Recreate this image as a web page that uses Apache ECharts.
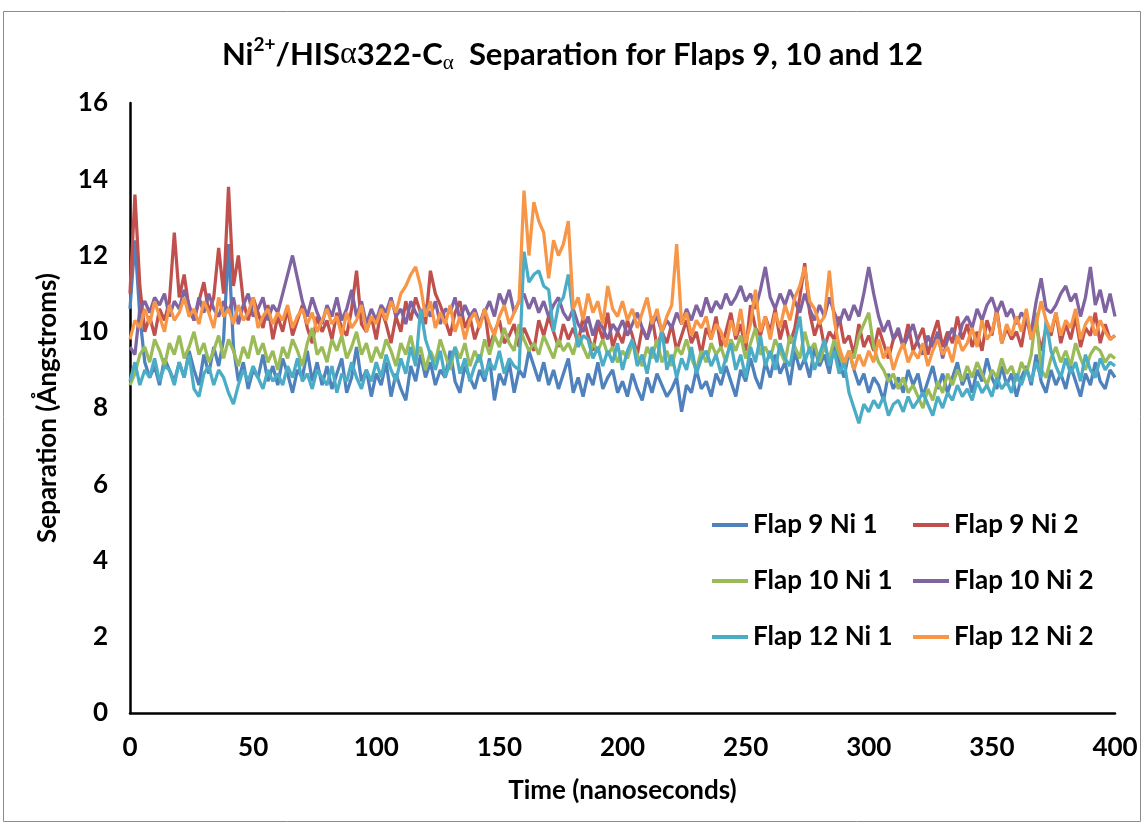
<!DOCTYPE html>
<html>
<head>
<meta charset="utf-8">
<script src="https://cdn.jsdelivr.net/npm/echarts@6/dist/echarts.min.js"></script>
<style>
  html, body { margin: 0; padding: 0; background: #fff; }
  #chart { width: 1145px; height: 826px; }
</style>
</head>
<body>
<div id="chart"></div>
<script>
// Sampling interval of the trajectories (ns)
const TIME_STEP = 2;

const seriesNames = ['Flap 9 Ni 1', 'Flap 9 Ni 2', 'Flap 10 Ni 1', 'Flap 10 Ni 2', 'Flap 12 Ni 1', 'Flap 12 Ni 2'];

// Ni–Cα separations (Å), one value every TIME_STEP ns from 0 to 400 ns
const flap9Ni1 = [
  10.6, 12.4, 10.4, 9.2, 8.8, 9.1, 8.6, 9.3, 9.0, 8.7,
  9.2, 8.8, 9.5, 9.0, 8.6, 9.4, 8.9, 9.6, 9.1, 9.8,
  12.3, 9.6, 8.7, 9.2, 8.5, 9.0, 8.8, 9.4, 8.7, 9.1,
  8.6, 9.3, 8.9, 8.4, 9.0, 8.8, 9.5, 8.7, 9.2, 8.6,
  9.1, 8.5, 8.9, 9.3, 8.4, 8.8, 9.6, 8.7, 9.0, 8.3,
  8.9, 8.6, 9.2, 8.3, 8.9, 8.5, 8.2, 9.1, 8.7, 9.4,
  8.8, 9.2, 8.6, 9.0, 8.8, 9.5, 8.7, 8.4, 9.1, 8.8,
  8.5, 9.0, 8.7, 9.3, 8.2, 8.9, 8.6, 9.2, 8.4, 9.0,
  8.8, 9.5, 9.1, 8.7, 9.2, 8.6, 9.0, 8.5, 8.9, 9.3,
  8.4, 8.8, 8.3, 8.9, 8.6, 9.2, 8.5, 8.8, 9.0, 8.4,
  8.7, 8.3, 8.9, 8.5, 8.2, 8.8, 8.4, 8.9, 8.6, 8.3,
  8.5, 8.8, 7.9, 8.6, 8.4, 9.0, 8.5, 8.7, 8.3, 8.9,
  8.6, 9.1, 8.7, 8.3, 9.0, 8.7, 9.3, 8.8, 8.5, 9.2,
  8.8, 9.4, 8.9, 9.2, 8.6, 9.5, 9.0, 9.3, 8.8, 9.6,
  9.1, 9.4, 8.9, 9.7, 9.2, 8.8, 9.5, 9.0, 8.6, 8.9,
  8.4, 8.8, 8.6, 8.2, 8.9, 8.5, 8.8, 8.4, 9.0, 8.6,
  8.9, 8.3, 8.7, 9.1, 8.5, 8.9, 8.4, 8.8, 9.2, 8.6,
  8.9, 8.4, 9.0, 8.7, 9.3, 8.8, 8.5, 9.1, 8.6, 8.9,
  8.3, 8.8, 9.1, 8.6, 9.4, 8.7, 8.4, 9.0, 8.6, 8.9,
  8.5, 9.1, 8.7, 8.3, 8.9, 8.6, 9.2, 8.7, 8.5, 9.0,
  8.8
];

const flap9Ni2 = [
  11.0, 13.6, 11.2, 10.0, 10.4, 9.9, 10.6, 10.3, 10.8, 12.6,
  10.9, 11.5, 10.6, 10.3, 10.8, 11.3, 10.5, 10.9, 12.2, 11.0,
  13.8, 11.2, 12.0, 10.8, 10.3, 10.9, 10.5, 10.1, 10.7, 9.8,
  10.4, 10.0, 10.6, 9.9, 10.3, 10.7, 10.1, 9.7, 10.4, 10.0,
  10.3, 9.8, 10.5, 10.1, 9.9, 10.6, 11.6, 10.2, 10.0, 10.4,
  9.8, 10.6, 10.2, 9.7, 10.4, 10.0, 10.8, 10.3, 10.9, 10.5,
  10.2, 11.6, 11.0, 10.7, 10.3, 9.9, 10.5, 10.8, 10.1, 10.4,
  9.8, 10.2, 10.6, 9.6, 10.0, 10.3, 9.7, 9.9, 10.2, 9.6,
  10.1, 9.8, 9.5, 10.3, 9.9, 10.4, 10.0, 9.6, 10.2, 9.8,
  10.1, 9.7, 10.4, 9.9, 9.5, 10.2, 9.8, 10.5, 9.6, 10.0,
  9.7, 10.3, 9.9, 9.4, 10.1, 9.8, 10.4, 9.6, 10.0, 9.7,
  10.2, 9.5, 9.9, 10.3, 9.7, 10.0, 9.4, 10.1, 9.8, 10.4,
  9.6, 10.0, 10.5, 9.8, 10.2, 9.5, 10.7, 10.1, 9.9, 10.4,
  10.0, 10.6, 9.8, 10.3, 9.7, 10.1, 10.9, 11.8, 10.5, 9.9,
  10.3, 9.6, 10.0, 9.8, 10.4, 9.7, 9.9, 9.4, 10.2, 9.6,
  9.9, 9.5, 10.1, 9.7, 9.3, 9.8, 10.0, 9.6, 10.2, 9.5,
  9.8, 10.1, 9.4, 9.9, 10.3, 9.6, 10.0, 9.7, 10.4, 9.8,
  10.2, 9.6, 10.0, 9.5, 10.3, 9.9, 10.6, 9.7, 10.1, 9.8,
  10.0, 9.6, 10.4, 9.8, 10.2, 9.5, 10.1, 9.9, 10.5, 9.7,
  10.2, 9.8, 10.4, 9.6, 10.1, 9.9, 10.5, 9.7, 10.2, 9.8,
  9.9
];

const flap10Ni1 = [
  8.6, 8.9, 9.4, 9.6, 9.2, 9.8, 9.5, 9.1, 9.7, 9.4,
  9.9, 9.3, 9.6, 10.0, 9.4, 9.7, 9.2, 9.5, 9.9, 9.3,
  9.8, 9.5, 9.1, 9.6, 9.3, 9.9, 9.4, 9.7, 9.2, 9.5,
  9.0, 9.6, 9.3, 9.8, 9.5, 9.1, 9.7, 10.1, 9.4, 9.6,
  9.2, 9.8, 9.5, 9.9, 9.3, 9.6, 10.0, 9.4, 9.7, 9.2,
  9.6, 9.3, 9.8, 9.5, 9.1, 9.7, 9.4, 9.9, 9.3, 9.6,
  9.0, 9.5, 9.2, 9.8, 9.4, 9.0, 9.6, 9.3, 9.7, 9.1,
  9.5, 9.2, 9.8, 9.4, 9.9, 9.6, 10.1, 9.7, 9.5, 10.2,
  9.8, 9.5, 9.7, 9.4, 9.9, 9.6, 9.3, 9.8, 9.5, 9.7,
  9.4, 9.9, 9.6, 9.3, 9.7, 9.5, 9.8, 9.4, 9.6, 9.2,
  9.5, 9.3, 9.7, 9.4, 9.1, 9.6, 9.3, 9.8, 9.2, 9.5,
  9.1, 9.6, 9.4, 9.8, 9.3, 9.0, 9.5, 9.2, 9.7, 9.4,
  9.6, 9.2, 9.8, 9.5, 9.9, 9.3, 9.7, 10.1, 9.4, 9.6,
  9.3, 9.8, 9.5, 9.2, 9.9, 9.6, 9.3, 10.0, 9.5, 9.7,
  9.2, 9.6, 9.3, 9.8, 9.4, 9.1, 9.5, 9.3, 9.9, 10.2,
  10.5, 9.6, 9.2, 9.0, 8.7, 8.9, 8.5, 8.8, 8.4, 8.6,
  8.3, 8.0, 8.5, 8.2, 8.7, 8.4, 8.9, 8.6, 9.0, 8.7,
  9.1, 8.8, 9.2, 8.9, 8.6, 9.0, 8.8, 9.3, 8.9, 9.1,
  8.7, 9.2, 8.9, 9.4, 10.5, 9.0, 8.8, 9.3, 9.6, 9.2,
  9.5, 9.1, 9.7, 9.3, 9.0, 9.4, 9.6, 9.5, 9.2, 9.4,
  9.3
];

const flap10Ni2 = [
  9.6, 9.4, 10.6, 10.8, 10.5, 10.9, 10.7, 11.0, 10.4, 10.8,
  10.6, 11.1, 10.7, 10.3, 10.9, 10.5, 11.0, 10.6, 10.4, 10.8,
  10.5, 10.9, 10.2, 10.7, 11.0, 10.4, 10.6, 10.9, 10.3, 10.7,
  10.5, 11.0, 11.5, 12.0, 11.4, 10.8, 10.4, 10.9, 10.5, 10.2,
  10.7, 10.4, 10.9, 10.3, 10.6, 11.1, 10.4, 10.8, 10.2, 10.6,
  10.3, 10.7, 10.5, 10.9, 10.4, 10.6, 10.2, 10.8, 10.5, 10.3,
  10.7, 10.4, 10.8, 10.2, 10.6, 10.5, 10.9, 10.3, 10.7, 10.4,
  10.6, 10.2, 10.5, 10.8, 10.4, 11.0, 10.7, 11.1, 10.5, 10.8,
  11.0, 10.6, 10.9, 10.5, 10.8, 10.4, 10.7, 10.9, 10.5, 10.3,
  10.6, 10.2, 10.0, 10.4, 9.9, 10.3, 10.1, 9.8, 10.2, 10.0,
  10.3, 9.9, 10.2, 10.5, 10.1, 9.8, 10.2, 10.4, 10.0, 10.3,
  10.1, 10.5, 10.2, 10.6, 10.3, 10.7, 10.4, 10.9, 10.5, 10.8,
  10.6, 11.0, 10.7, 10.9, 11.2, 10.8, 11.0, 10.6, 11.1, 11.7,
  10.9, 10.6, 11.0, 10.7, 11.1, 10.8, 10.5, 11.0, 10.6, 10.3,
  10.7, 10.4, 10.9, 10.5, 10.2, 10.6, 10.3, 10.7, 10.4, 11.0,
  11.7, 11.0, 10.4, 10.0, 10.3, 9.8, 10.1, 9.6, 9.9, 10.2,
  9.7, 9.4, 9.9, 9.6, 10.0, 9.3, 9.8, 10.1, 9.7, 10.2,
  10.4, 10.1, 10.6, 10.3, 10.7, 10.9, 10.5, 10.8, 10.4, 10.6,
  10.2, 10.5, 10.3, 10.0, 10.8, 11.4, 10.6, 10.5, 10.7, 11.0,
  11.2, 10.8, 11.0, 10.4, 10.9, 11.7, 10.7, 11.1, 10.5, 11.0,
  10.4
];

const flap12Ni1 = [
  8.7, 9.2, 8.6, 9.0, 8.8, 9.3, 8.7, 9.1, 9.0, 8.6,
  9.2, 8.8, 9.4, 8.5, 8.3, 8.9, 9.1, 8.6, 9.0, 8.8,
  8.4, 8.1, 8.6, 9.0, 8.7, 9.1, 8.8, 8.5, 9.0, 8.7,
  8.9, 8.6, 9.1, 8.8, 9.3, 8.7, 8.9, 8.5, 9.0, 8.8,
  8.6, 9.1, 8.4, 8.9, 8.7, 9.2, 8.8, 8.5, 9.0, 8.7,
  9.2, 8.8, 9.4, 9.0, 8.7, 9.3, 8.9, 9.6, 9.1, 10.6,
  9.8, 9.4, 9.0, 9.5, 8.8, 9.2, 9.6, 8.9, 9.3, 8.7,
  9.1, 9.4, 8.8, 9.2, 9.0, 9.5, 8.9, 9.3, 9.1, 9.0,
  12.1, 11.3, 11.5, 11.6, 11.2, 11.1, 10.0, 10.7, 10.9, 11.5,
  10.4, 9.6, 9.9, 9.8, 9.3, 9.6, 9.1, 9.5, 9.2, 9.7,
  9.0, 9.5, 9.8, 9.1, 9.4, 8.9, 9.6, 9.2, 10.1, 9.0,
  9.4, 8.8, 9.3, 9.0, 9.6, 8.9, 9.3, 9.5, 9.1, 9.4,
  8.9, 9.3, 9.7, 9.0, 9.4, 8.8, 9.6, 9.2, 9.9, 9.1,
  9.5, 9.0, 9.7, 9.3, 9.1, 9.8, 10.4, 9.2, 9.6, 9.0,
  9.4, 9.8, 9.1, 9.5, 8.9, 9.2, 8.4, 8.0, 7.6, 8.1,
  7.9, 8.2, 8.0, 8.3, 7.8, 8.1, 8.2, 7.9, 8.3, 8.0,
  8.2, 8.4, 8.1, 7.8, 8.3, 8.0, 8.4, 8.2, 8.6, 8.3,
  8.5, 8.2, 8.7, 8.4, 8.6, 8.3, 8.8, 8.5, 8.7, 8.4,
  8.9, 8.6, 9.0, 8.7, 9.2, 8.8, 10.3, 9.5, 9.1, 8.8,
  9.3, 8.9, 9.2, 8.7, 9.4, 9.0, 8.8, 9.3, 9.0, 9.2,
  9.1
];

const flap12Ni2 = [
  9.8, 10.3, 10.1, 10.6, 10.2, 10.8, 10.4, 10.0, 10.7, 10.3,
  10.5, 10.9, 10.4, 10.6, 10.2, 10.8, 10.5, 10.1, 10.9, 10.4,
  10.6, 10.2, 10.7, 10.3, 10.5, 10.9, 10.1, 10.4, 10.6, 10.2,
  10.5, 10.3, 10.7, 10.1, 10.4, 10.6, 10.2, 10.5, 10.0, 10.3,
  10.6, 10.2, 10.4, 9.9, 10.5, 10.1, 10.3, 10.7, 10.0, 10.4,
  10.2, 10.6, 10.3, 10.8, 10.5, 11.0, 11.2, 11.5, 11.7, 11.2,
  10.4, 10.8, 10.1, 10.5, 10.2, 10.7, 10.0, 10.4, 9.8, 10.3,
  10.5, 10.1, 10.6, 10.2, 9.9, 10.4, 10.7, 10.2, 10.5, 10.8,
  13.7, 12.0, 13.4, 12.9, 12.6, 11.4, 12.4, 12.0, 12.3, 12.9,
  10.6, 10.9, 10.3, 11.0, 10.5, 10.8, 10.2, 11.2, 10.6, 10.4,
  10.8, 10.3, 10.6, 10.1, 10.5, 10.9, 10.2, 10.6, 10.0, 10.4,
  10.7, 12.3, 10.2, 10.5, 9.9, 10.3, 10.1, 10.4, 9.8, 10.2,
  10.0, 9.6, 10.3, 9.9, 10.6, 9.7, 10.2, 11.1, 10.0, 10.4,
  9.8, 10.5, 10.1, 10.7, 10.3, 10.9, 11.2, 11.7, 10.8, 10.6,
  10.2, 10.4, 11.6, 10.3, 9.6, 9.2, 9.5, 9.0, 9.4, 9.1,
  9.5, 9.2, 9.8, 9.3, 9.6, 9.0, 9.4, 9.7, 9.2, 9.5,
  9.3, 9.7, 9.1, 9.5, 9.8, 9.4, 9.6, 9.2, 9.9, 9.5,
  9.7, 10.1, 9.6, 10.3, 9.8, 10.0, 10.5, 9.7, 10.2, 9.9,
  10.4, 10.0, 10.6, 9.8, 10.2, 10.8, 10.3, 10.0, 10.5, 9.9,
  10.3, 10.1, 10.6, 9.8, 10.2, 10.4, 9.9, 10.3, 10.0, 9.8,
  9.9
];

const seriesValues = [flap9Ni1, flap9Ni2, flap10Ni1, flap10Ni2, flap12Ni1, flap12Ni2];
const seriesColors = ['#4F81BD', '#C0504D', '#9BBB59', '#8064A2', '#4BACC6', '#F79646'];

const FONT = 'Lato';
const labelFont = { fontFamily: FONT, fontWeight: 'bold', fontSize: 26, color: '#000' };

const chart = echarts.init(document.getElementById('chart'), null, { renderer: 'canvas' });

chart.setOption({
  backgroundColor: '#fff',
  animation: false,
  title: {
    text: '{t|Ni}{sup|2+}{t|/HIS}{g|α}{t|322-C}{sub|α}{t|  Separation for Flaps 9, 10 and 12}',
    left: 'center',
    top: 30,
    textStyle: {
      rich: {
        t: { fontFamily: FONT, fontWeight: 'bold', fontSize: 31, color: '#000' },
        sup: { fontFamily: FONT, fontWeight: 'bold', fontSize: 19, color: '#000', verticalAlign: 'top', padding: [0, 0, 12, 0] },
        g: { fontFamily: 'Liberation Serif', fontWeight: 'normal', fontSize: 32, color: '#000' },
        sub: { fontFamily: 'Liberation Serif', fontWeight: 'normal', fontSize: 21, color: '#000', padding: [18, 0, 0, 0] }
      }
    }
  },
  graphic: [{
    type: 'rect',
    shape: { x: 3.5, y: 11.5, width: 1137, height: 810 },
    style: { fill: 'none', stroke: '#8c8c8c', lineWidth: 1 },
    silent: true
  }],
  legend: [
    {
      orient: 'vertical', left: 707, top: 507, itemWidth: 36, itemHeight: 4, itemGap: 30,
      icon: 'rect', textStyle: labelFont,
      data: [seriesNames[0], seriesNames[2], seriesNames[4]]
    },
    {
      orient: 'vertical', left: 908, top: 507, itemWidth: 36, itemHeight: 4, itemGap: 30,
      icon: 'rect', textStyle: labelFont,
      data: [seriesNames[1], seriesNames[3], seriesNames[5]]
    }
  ],
  grid: { left: 130, right: 30, top: 103, bottom: 113, containLabel: false },
  xAxis: {
    type: 'value', min: 0, max: 400, interval: 50,
    name: 'Time (nanoseconds)', nameLocation: 'middle', nameGap: 65,
    nameTextStyle: labelFont,
    axisLine: { show: true, lineStyle: { color: '#000', width: 2.5 } },
    axisTick: { show: false },
    splitLine: { show: false },
    axisLabel: Object.assign({ margin: 22 }, labelFont)
  },
  yAxis: {
    type: 'value', min: 0, max: 16, interval: 2,
    name: 'Separation (Ångstroms)', nameLocation: 'middle', nameGap: 69, nameRotate: 90,
    nameTextStyle: labelFont,
    axisLine: { show: true, lineStyle: { color: '#000', width: 2.5 } },
    axisTick: { show: false },
    splitLine: { show: false },
    axisLabel: Object.assign({ margin: 22 }, labelFont)
  },
  series: seriesNames.map((name, k) => ({
    name,
    type: 'line',
    showSymbol: false,
    symbol: 'none',
    smooth: false,
    color: seriesColors[k],
    lineStyle: { width: 3.25, color: seriesColors[k] },
    data: seriesValues[k].map((v, i) => [i * TIME_STEP, v])
  }))
});
</script>
</body>
</html>
